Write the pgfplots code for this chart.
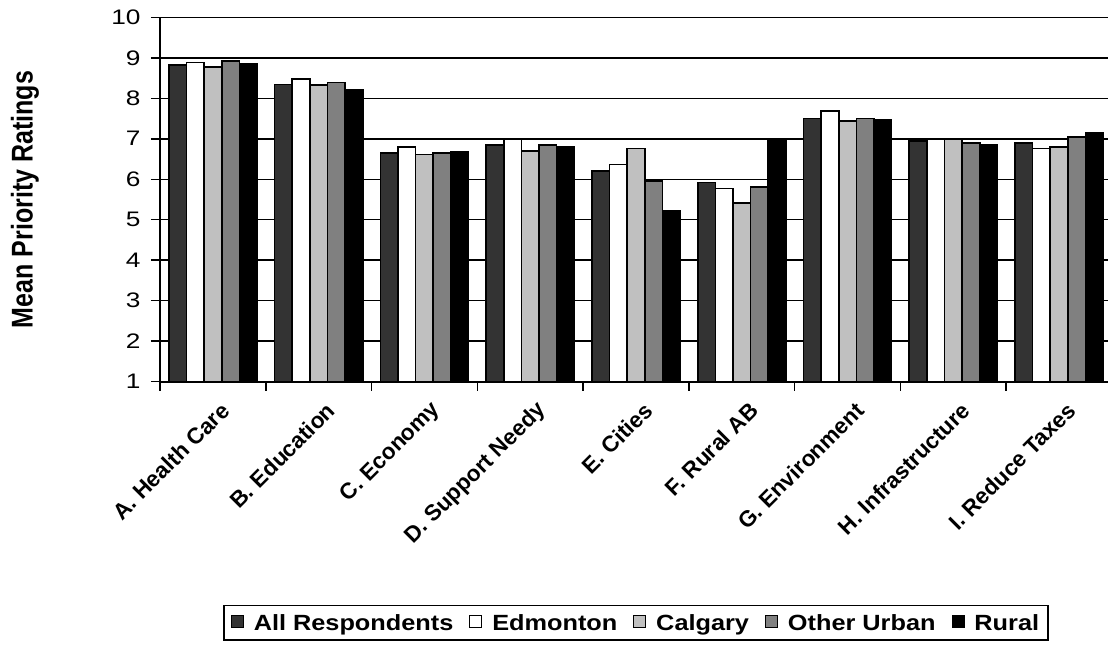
\documentclass[border=0pt]{standalone}
\usepackage{graphicx}
\usepackage{pgfplots}
\pgfplotsset{compat=1.18}
\usepackage{fontspec}
\setmainfont{Liberation Sans}
\newfontfamily\tickfont[FakeStretch=1.25]{Liberation Sans}
\newfontfamily\legfont[FakeStretch=1.15]{Liberation Sans}
\definecolor{cAll}{HTML}{333333}
\definecolor{cCal}{HTML}{C0C0C0}
\definecolor{cOU}{HTML}{808080}
\begin{document}
\begin{tikzpicture}[x=1pt,y=1pt]
\useasboundingbox (-160,-265.3) rectangle (948,381.7);
\begin{axis}[
  at={(0,0)}, anchor=south west,
  scale only axis, width=952pt, height=364.4pt,
  ymin=1, ymax=10, ytick={1,...,10},
  xmin=-0.5, xmax=8.5,
  xtick={-0.5,0.5,...,8.5},
  xticklabels={A. Health Care,B. Education,C. Economy,D. Support Needy,E. Cities,F. Rural AB,G. Environment,H. Infrastructure,I. Reduce Taxes},
  x tick label as interval,
  axis x line*=bottom, axis y line*=left,
  axis line style={line width=1.8pt, -},
  ymajorgrids, grid style={line width=1.5pt, black},
  tick align=outside, major tick length=9pt,
  tick style={line width=1.5pt, black},
  /pgf/number format/assume math mode=true,
  yticklabel style={font=\tickfont\fontsize{21}{23}\selectfont, xshift=-7pt},
  xticklabel style={font=\bfseries\fontsize{22.5}{24}\selectfont, rotate=45, anchor=east, xshift=1pt, yshift=-20pt},
  ylabel={\scalebox{1}[1.2]{\bfseries Mean Priority Ratings}},
  ylabel style={font=\fontsize{25}{28}\selectfont, at={(axis description cs:-0.142,0.5)}, anchor=center},
  ybar=0pt, bar width=0.16667,
  every axis plot/.append style={draw=black, line width=1.6pt},
  legend columns=5,
  legend style={at={(axis description cs:0.5,-0.662)}, anchor=center, draw=black, line width=1.5pt, font=\legfont\bfseries\fontsize{22}{24}\selectfont, inner xsep=7pt, inner ysep=6.5pt,
    /tikz/every odd column/.append style={column sep=8pt},
    /tikz/every even column/.append style={column sep=14pt}},
  legend image code/.code={\draw[#1, line width=0.9pt] (0pt,-5pt) rectangle (12pt,7pt);},
]
\addplot[fill=cAll] coordinates {(0,8.82) (1,8.34) (2,6.65) (3,6.85) (4,6.21) (5,5.92) (6,7.50) (7,6.94) (8,6.90)};
\addplot[fill=white] coordinates {(0,8.88) (1,8.48) (2,6.80) (3,7.00) (4,6.36) (5,5.77) (6,7.69) (7,7.00) (8,6.76)};
\addplot[fill=cCal] coordinates {(0,8.77) (1,8.33) (2,6.61) (3,6.70) (4,6.76) (5,5.42) (6,7.44) (7,7.00) (8,6.80)};
\addplot[fill=cOU] coordinates {(0,8.92) (1,8.39) (2,6.65) (3,6.85) (4,5.96) (5,5.81) (6,7.50) (7,6.90) (8,7.04)};
\addplot[fill=black] coordinates {(0,8.85) (1,8.20) (2,6.67) (3,6.81) (4,5.23) (5,7.01) (6,7.46) (7,6.86) (8,7.15)};
\legend{All Respondents,Edmonton,Calgary,Other Urban,Rural}
\end{axis}
\end{tikzpicture}
\end{document}
